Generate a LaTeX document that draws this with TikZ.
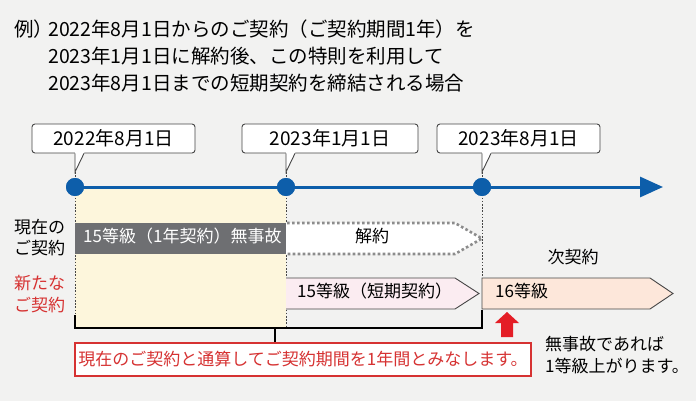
\documentclass[tikz,border=0pt]{standalone}
\usepackage{fontspec}
\setmainfont{Noto Sans CJK JP}
\usetikzlibrary{arrows.meta}
\definecolor{bg}{RGB}{242,242,241}
\definecolor{tblue}{RGB}{13,94,170}
\definecolor{barg}{RGB}{110,111,114}
\definecolor{yel}{RGB}{253,246,220}
\definecolor{pnk}{RGB}{251,236,241}
\definecolor{sal}{RGB}{253,231,218}
\definecolor{rd}{RGB}{214,50,50}
\definecolor{rarr}{RGB}{228,30,38}
\definecolor{dgray}{RGB}{70,70,70}
\definecolor{mgray}{RGB}{140,140,140}
\tikzset{
  txt/.style={inner sep=0pt, text height=0.8em, text depth=0.04em, font=\fontsize{17}{20}\selectfont},
  ttl/.style={txt, anchor=west, font=\fontsize{19.5}{22}\selectfont},
  callbox/.style={draw=dgray, line width=0.9pt, fill=white, rounded corners=3pt, minimum height=29pt, inner sep=0pt, font=\fontsize{19}{22}\selectfont},
  dot/.style={circle, fill=tblue, minimum size=18pt, inner sep=0pt},
  vdot/.style={dgray, line width=1pt, dash pattern=on 1.6pt off 1.6pt},
  brk/.style={black, line width=1.2pt},
  pent/.style={draw=dgray, line width=0.9pt},
}
\begin{document}
\begin{tikzpicture}[x=1pt,y=-1pt]
\fill[bg] (0,0) rectangle (696,401);
\useasboundingbox (0,0) rectangle (696,401);
% title
\node[ttl] (ex) at (14,33) {例）};
\node[ttl] (t1) at (48,33) {2022年8月1日からのご契約（ご契約期間1年）を};
\node[ttl] (t2) at (48,60) {2023年1月1日に解約後、この特則を利用して};
\node[ttl] (t3) at (48,87) {2023年8月1日までの短期契約を締結される場合};
% yellow area
\fill[yel] (75,187) rectangle (286,328);
% dots
\node[dot] (d1) at (75,187) {};
\node[dot] (d2) at (286,187) {};
\node[dot] (d3) at (482,187) {};
\coordinate (tend) at (663,187);
% vertical guide lines
\coordinate (k1) at (75,172);
\coordinate (k2) at (286,172);
\coordinate (k3) at (482,172);
\coordinate (b1) at (75,315);
\coordinate (b3) at (482,310);
\coordinate (bl) at (75,328);
\coordinate (bm) at (286,328);
\coordinate (br) at (482,328);
\draw[vdot] (k1) -- (b1);
\draw[vdot] (k2) -- (bm);
\draw[vdot] (k3) -- (b3);
% timeline
\draw[tblue, line width=3pt, -{Triangle[length=23pt,width=20pt]}] (d1.center) -- (tend);
\node[dot] at (75,187) {};
\node[dot] at (286,187) {};
\node[dot] at (482,187) {};
% callouts
\node[callbox, minimum width=163pt] (c1) at (113.5,138.5) {2022年8月1日};
\node[callbox, minimum width=176pt] (c2) at (330,138.5) {2023年1月1日};
\node[callbox, minimum width=163pt] (c3) at (518.5,138.5) {2023年8月1日};
\foreach \x in {75,286,482}{
  \fill[white] (\x,151.9) -- (\x,171.5) -- (\x+9.5,151.9) -- cycle;
  \draw[dgray, line width=0.9pt] (\x,153.4) -- (\x,172) -- (\x+9,153.4);
}
% current contract bar
\fill[barg] (75,223) rectangle (286,254);
\node[txt, anchor=west, text=white] (cur) at (83,238.5) {15等級（1年契約）無事故};
\fill[white] (286,223) -- (455,223) -- (482,238.5) -- (455,254) -- (286,254) -- cycle;
\draw[mgray, line width=2.6pt, dash pattern=on 2.6pt off 2.4pt] (287,223) -- (455,223) -- (482,238.5) -- (455,254) -- (287,254);
\node[txt] (kai) at (372,238.5) {解約};
% new contract
\draw[pent, fill=pnk] (286,278) -- (455,278) -- (479,293.5) -- (455,309) -- (286,309);
\node[txt, anchor=west] (n15) at (297,293.5) {15等級（短期契約）};
\draw[pent, fill=sal] (482,309) -- (482,278) -- (650,278) -- (673,293.5) -- (650,309) -- cycle;
\node[txt, anchor=west] (n16) at (495,293.5) {16等級};
\node[txt] (nxt) at (573,260) {次契約};
% left labels
\node[txt, anchor=west] (l1) at (14,230) {現在の};
\node[txt, anchor=west] (l2) at (14,251) {ご契約};
\node[txt, anchor=west, text=rd] (l3) at (14,286) {新たな};
\node[txt, anchor=west, text=rd] (l4) at (14,308) {ご契約};
% bracket
\draw[brk] (b1) -- (bl) -- (br) -- (b3);
\coordinate (tk) at (275,328);
\node[draw=rd, line width=1.2pt, fill=white, minimum width=456pt, minimum height=33pt, inner sep=0pt, text=rd, font=\fontsize{17}{20}\selectfont] (note) at (303,359.5) {現在のご契約と通算してご契約期間を1年間とみなします。};
\draw[brk] (tk) -- (tk |- note.north);
% red up arrow
\fill[rarr] (495,323) -- (507,312) -- (519,323) -- (513,323) -- (513,337) -- (501,337) -- (501,323) -- cycle;
\node[txt, anchor=west] (r1) at (545,347) {無事故であれば};
\node[txt, anchor=west] (r2) at (545,369) {1等級上がります。};
\end{tikzpicture}
\end{document}
